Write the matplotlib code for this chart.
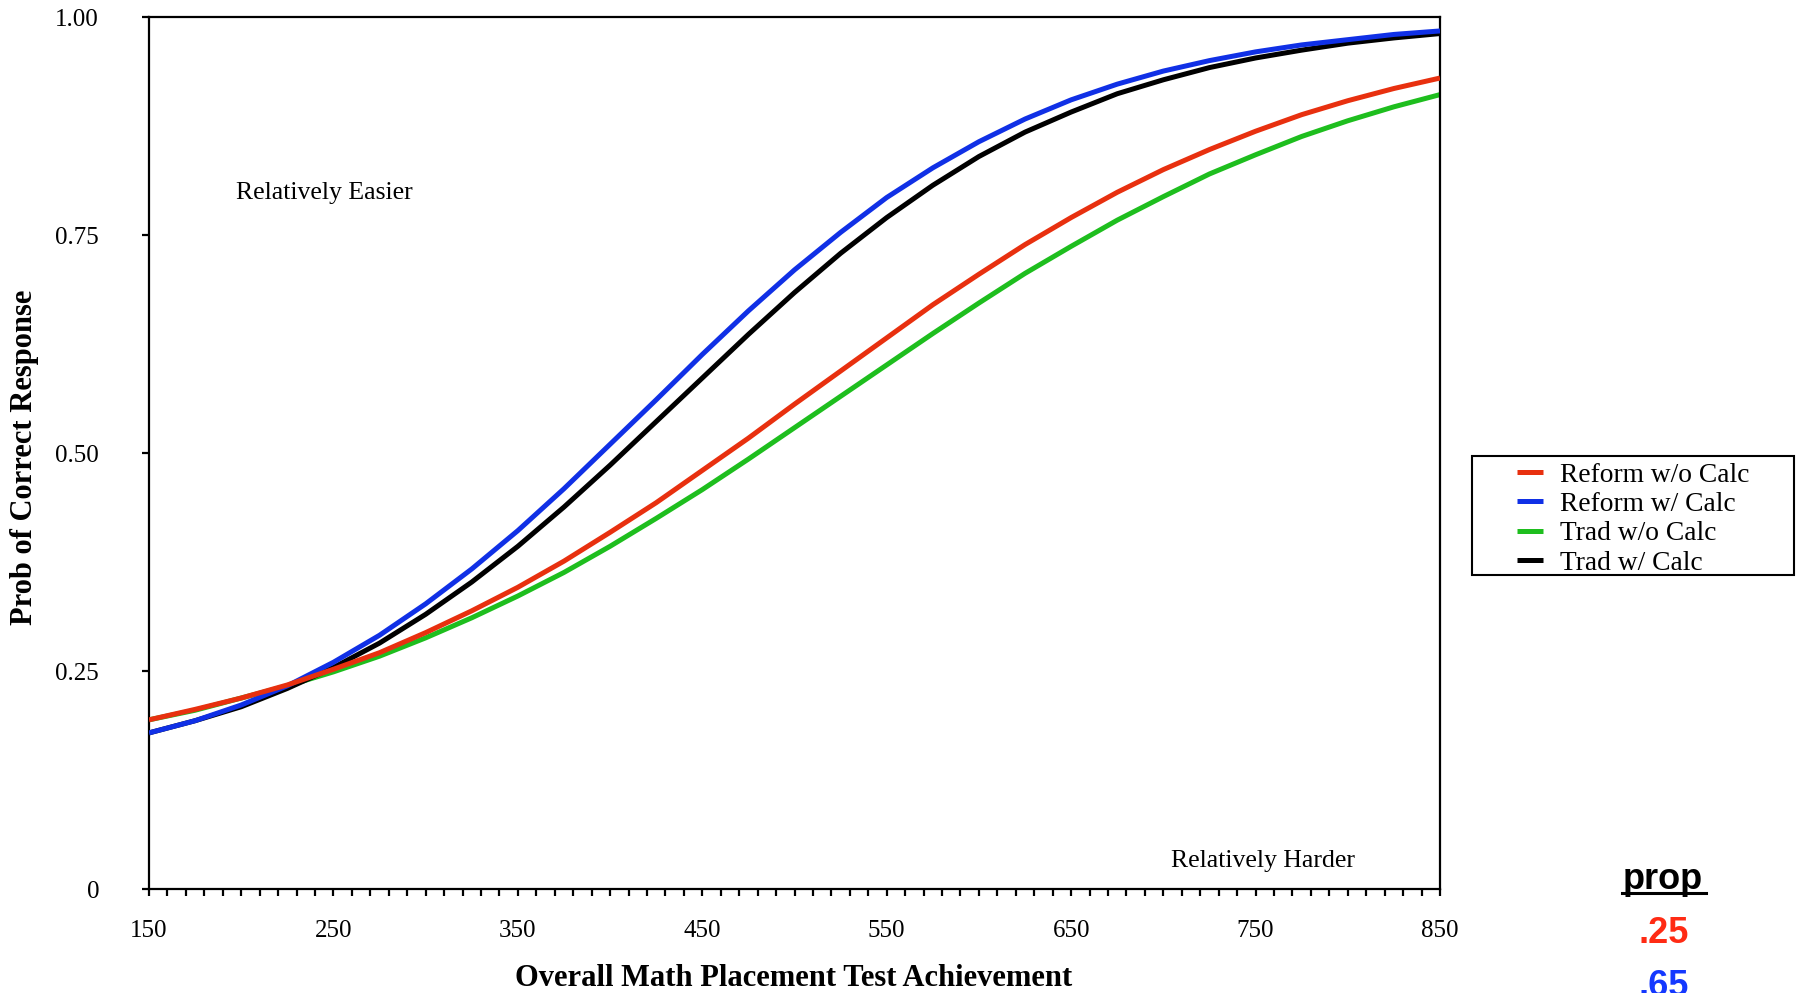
import matplotlib
matplotlib.use("Agg")
import matplotlib.pyplot as plt
from matplotlib.lines import Line2D
from matplotlib.patches import Rectangle
from matplotlib.ticker import MultipleLocator

# valeurs, tous les 25 points de score
score = [150, 175, 200, 225, 250, 275, 300, 325, 350, 375, 400, 425, 450, 475, 500,
         525, 550, 575, 600, 625, 650, 675, 700, 725, 750, 775, 800, 825, 850]

reform_without_calc = [0.194, 0.206, 0.219, 0.234, 0.252, 0.271, 0.294, 0.319, 0.346, 0.376,
                       0.409, 0.443, 0.480, 0.517, 0.556, 0.594, 0.632, 0.670, 0.705, 0.739,
                       0.770, 0.799, 0.825, 0.848, 0.869, 0.888, 0.904, 0.918, 0.930]
reform_with_calc = [0.179, 0.193, 0.211, 0.233, 0.260, 0.291, 0.327, 0.367, 0.411, 0.459,
                    0.510, 0.561, 0.613, 0.663, 0.710, 0.753, 0.793, 0.827, 0.857, 0.883,
                    0.905, 0.923, 0.938, 0.950, 0.960, 0.968, 0.974, 0.980, 0.984]
trad_without_calc = [0.194, 0.205, 0.219, 0.233, 0.249, 0.267, 0.288, 0.311, 0.336, 0.363,
                     0.393, 0.425, 0.458, 0.493, 0.529, 0.565, 0.601, 0.637, 0.672, 0.706,
                     0.737, 0.767, 0.794, 0.820, 0.842, 0.863, 0.881, 0.897, 0.911]
trad_with_calc = [0.179, 0.193, 0.209, 0.230, 0.254, 0.282, 0.315, 0.352, 0.393, 0.438,
                  0.486, 0.536, 0.586, 0.636, 0.684, 0.729, 0.770, 0.807, 0.840, 0.868,
                  0.891, 0.912, 0.928, 0.942, 0.953, 0.962, 0.970, 0.976, 0.981]

series_labels = ["Reform w/o Calc", "Reform w/ Calc", "Trad w/o Calc", "Trad w/ Calc"]
series_colors = ["#E8300F", "#1030E6", "#1EBE1E", "black"]
series_zorder = [4, 3, 1, 2]

y_ticks = [0, 0.25, 0.5, 0.75, 1.0]
y_tick_labels = ["0", "0.25", "0.50", "0.75", "1.00"]
prop_values = [".25", ".65"]
prop_colors = ["#FF2B14", "#1438FF"]

SERIF = "Liberation Serif"
SANS = "Liberation Sans"
W, H = 1796, 993

fig = plt.figure(figsize=(W / 100, H / 100), dpi=100)
ax = fig.add_axes([149 / W, (H - 889) / H, (1440 - 149) / W, (889 - 17) / H])

all_series = [reform_without_calc, reform_with_calc, trad_without_calc, trad_with_calc]
for values, label, color, z in zip(all_series, series_labels, series_colors, series_zorder):
    ax.plot(score, values, color=color, lw=3.6, label=label, zorder=z,
            solid_capstyle="butt", solid_joinstyle="round")

ax.set_xlim(150, 850)
ax.set_ylim(0, 1)
ax.set_xticks(range(150, 851, 100))
ax.xaxis.set_minor_locator(MultipleLocator(10))
ax.set_yticks(y_ticks)
ax.set_yticklabels(y_tick_labels)
for spine in ax.spines.values():
    spine.set_linewidth(1.6)
ax.tick_params(axis="x", which="both", direction="out", length=5, width=1.6, pad=17)
ax.tick_params(axis="y", which="both", direction="out", length=5, width=1.6, pad=31)
ax.tick_params(top=False, right=False)
for lab in ax.get_xticklabels() + ax.get_yticklabels():
    lab.set_fontfamily(SERIF)
    lab.set_fontsize(18)

ax.text(197, 0.791, "Relatively Easier", ha="left", va="baseline",
        family=SERIF, fontsize=18.5)
ax.text(804, 0.025, "Relatively Harder", ha="right", va="baseline",
        family=SERIF, fontsize=18.5)

fig.text(794 / W, 1 - 979 / H, "Overall Math Placement Test Achievement",
         ha="center", va="center", family=SERIF, fontweight="bold", fontsize=22)
fig.text(25 / W, 1 - 457 / H, "Prob of Correct Response", rotation=90,
         ha="center", va="center", family=SERIF, fontweight="bold", fontsize=22)

# legende sans cadre + cadre dessine a part (marges horizontales larges)
leg = fig.legend(loc="center", bbox_to_anchor=(1633 / W, 1 - 519 / H),
                 frameon=False, prop={"family": SERIF, "size": 19.8},
                 handlelength=0.95, handletextpad=0.6, labelspacing=0.15)
for handle in leg.legend_handles:
    handle.set_linewidth(3.6)
fig.add_artist(Rectangle((1472 / W, 1 - 575 / H), (1794 - 1472) / W, (575 - 456) / H,
                         transform=fig.transFigure, fill=False, lw=1.5, ec="black"))

# colonne "prop" en bas a droite
fig.text(1663 / W, 1 - 889 / H, "prop", ha="center", va="baseline",
         family=SANS, fontweight="bold", fontsize=26)
fig.add_artist(Line2D([1622 / W, 1706 / W], [1 - 893 / H, 1 - 893 / H],
                      transform=fig.transFigure, color="black", lw=2.2))
for i, (txt, col) in enumerate(zip(prop_values, prop_colors)):
    fig.text(1664 / W, 1 - (943 + 53 * i) / H, txt, ha="center", va="baseline",
             family=SANS, fontweight="bold", fontsize=26, color=col)

fig.savefig("out.png", dpi=100)
